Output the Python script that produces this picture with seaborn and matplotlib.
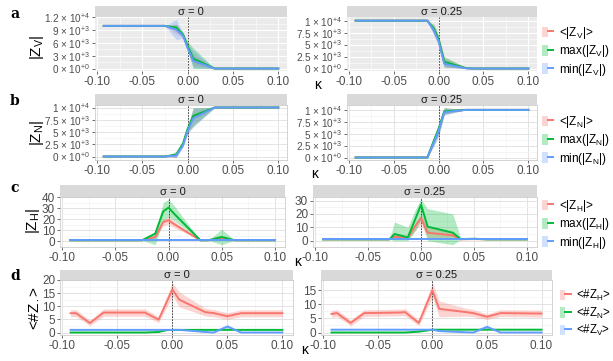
import matplotlib
matplotlib.use("Agg")
import matplotlib.pyplot as plt
import seaborn as sns
import pandas as pd
from matplotlib.patches import Patch
from matplotlib.lines import Line2D
from matplotlib.legend_handler import HandlerTuple

plt.rcParams["font.family"] = ["Liberation Sans", "DejaVu Sans"]
plt.rcParams["mathtext.fontset"] = "custom"
plt.rcParams["mathtext.rm"] = "Liberation Sans"
plt.rcParams["mathtext.it"] = "Liberation Sans:italic"

KAPPA = [-0.0925, -0.0875, -0.075, -0.0625, -0.03, -0.025, -0.0125, -0.005,
         0.0, 0.00625, 0.03, 0.0375, 0.05, 0.0625, 0.1]

# row a: |Z_V| (thousands)
ZV0_MEAN = [10, 10, 10, 10, 10, 10, 9.3, 7.8, 5.0, 2.0, 0, 0, 0, 0, 0]
ZV0_MEAN_LO = [10, 10, 10, 10, 10, 10, 8.2, 7.3, 4.4, 0.8, 0, 0, 0, 0, 0]
ZV0_MEAN_HI = [10, 10, 10, 10, 10, 10, 10.5, 8.3, 5.7, 3.4, 0, 0, 0, 0, 0]
ZV0_MAX = [10, 10, 10, 10, 10, 10, 9.6, 7.9, 5.3, 2.3, 0, 0, 0, 0, 0]
ZV0_MAX_LO = [10, 10, 10, 10, 10, 10, 9.0, 7.3, 4.2, 0.0, 0, 0, 0, 0, 0]
ZV0_MAX_HI = [10, 10, 10, 10, 10, 10, 10.3, 8.5, 6.4, 4.8, 0, 0, 0, 0, 0]
ZV0_MIN = [10, 10, 10, 10, 10, 10, 9.1, 7.7, 4.8, 1.8, 0, 0, 0, 0, 0]
ZV0_MIN_LO = [10, 10, 10, 10, 10, 10, 6.8, 7.1, 4.2, 0.2, 0, 0, 0, 0, 0]
ZV0_MIN_HI = [10, 10, 10, 10, 10, 10, 11.5, 8.4, 5.8, 4.2, 0, 0, 0, 0, 0]

ZV1_MEAN = [10, 10, 10, 10, 10, 10, 10, 8.0, 5.9, 1.2, 0.1, 0, 0, 0, 0]
ZV1_MEAN_LO = [10, 10, 10, 10, 10, 10, 10, 7.0, 5.1, 0.3, 0, 0, 0, 0, 0]
ZV1_MEAN_HI = [10, 10, 10, 10, 10, 10, 10, 9.0, 6.7, 2.3, 0.3, 0, 0, 0, 0]
ZV1_MAX = [10, 10, 10, 10, 10, 10, 10, 8.2, 6.1, 1.4, 0.1, 0, 0, 0, 0]
ZV1_MAX_LO = [10, 10, 10, 10, 10, 9.8, 10, 7.2, 5.3, 0.4, 0, 0, 0, 0, 0]
ZV1_MAX_HI = [10, 10, 10, 10, 10, 10.25, 10, 9.2, 6.9, 2.5, 0.3, 0, 0, 0, 0]
ZV1_MIN = [10, 10, 10, 10, 10, 10, 10, 7.8, 5.7, 1.0, 0.05, 0, 0, 0, 0]
ZV1_MIN_LO = [10, 10, 10, 10, 10, 10, 10, 6.8, 4.9, 0.2, 0, 0, 0, 0, 0]
ZV1_MIN_HI = [10, 10, 10, 10, 10, 10, 10, 8.8, 6.5, 2.0, 0.2, 0, 0, 0, 0]

# row b: |Z_N| (thousands)
ZN0_MEAN = [0, 0, 0, 0, 0, 0, 0.3, 2.5, 5.4, 8.0, 10, 10, 10, 10, 10]
ZN0_MEAN_LO = [0, 0, 0, 0, 0, 0, -0.2, 2.1, 4.8, 6.4, 10, 10, 10, 10, 10]
ZN0_MEAN_HI = [0, 0, 0, 0, 0, 0, 0.8, 2.9, 6.0, 9.8, 10, 10, 10, 10, 10]
ZN0_MAX = [0, 0, 0, 0, 0, 0, 0.4, 2.7, 5.6, 8.3, 10, 10, 10, 10, 10]
ZN0_MAX_LO = [0, 0, 0, 0, 0, 0, -0.1, 2.3, 5.0, 6.2, 10, 10, 10, 10, 10]
ZN0_MAX_HI = [0, 0, 0, 0, 0, 0, 1.1, 3.1, 6.2, 10.0, 10, 10, 10, 10, 10]
ZN0_MIN = [0, 0, 0, 0, 0, 0, 0.2, 2.3, 5.2, 7.8, 10, 10, 10, 10, 10]
ZN0_MIN_LO = [0, 0, 0, 0, 0, 0, -0.2, 1.9, 4.6, 6.0, 10, 10, 10, 10, 10]
ZN0_MIN_HI = [0, 0, 0, 0, 0, 0, 0.6, 2.7, 5.8, 9.9, 10, 10, 10, 10, 10]

ZN1_MEAN = [0, 0, 0, 0, 0, 0, 0, 3.5, 5.8, 9.6, 10, 10, 10, 10, 10]
ZN1_MEAN_LO = [0, 0, 0, 0, 0, 0, 0, 2.7, 4.6, 9.0, 10, 10, 10, 10, 10]
ZN1_MEAN_HI = [0, 0, 0, 0, 0, 0, 0, 4.3, 7.0, 10.5, 10, 10, 10, 10, 10]
ZN1_MAX = [0, 0, 0, 0, 0, 0, 0, 3.7, 6.0, 9.7, 10, 10, 10, 10, 10]
ZN1_MAX_LO = [0, 0, 0, 0, 0, 0, 0, 2.9, 4.8, 9.1, 10, 10, 10, 10, 10]
ZN1_MAX_HI = [0, 0, 0, 0, 0, 0, 0, 4.5, 7.2, 10.5, 10, 10, 10, 10, 10]
ZN1_MIN = [0, 0, 0, 0, 0, 0, 0, 3.3, 5.6, 9.5, 10, 10, 10, 10, 10]
ZN1_MIN_LO = [0, 0, 0, 0, 0, 0, 0, 2.5, 4.4, 8.9, 10, 10, 10, 10, 10]
ZN1_MIN_HI = [0, 0, 0, 0, 0, 0, 0, 4.1, 6.8, 10.4, 10, 10, 10, 10, 10]

# row c: |Z_H|
ZH0_MEAN = [1, 1, 1, 1, 1, 1, 4, 17.5, 19, 15, 1, 1, 2.5, 1, 1]
ZH0_MEAN_LO = [1, 1, 1, 1, 1, 1, 2.5, 14, 15.5, 12, 1, 1, 1.5, 1, 1]
ZH0_MEAN_HI = [1, 1, 1, 1, 1, 1, 5.5, 20, 22.5, 17.5, 1, 1, 3.5, 1, 1]
ZH0_MAX = [1, 1, 1, 1, 1, 1, 7, 27, 30.5, 24, 1, 1, 4, 1, 1]
ZH0_MAX_LO = [1, 1, 1, 1, 1, 1, -3, 19, 22.5, 18, 1, 1, -3, 1, 1]
ZH0_MAX_HI = [1, 1, 1, 1, 1, 1, 9, 35, 38, 31, 1, 1, 11, 1, 1]
ZH0_MIN = [1, 1, 1, 1, 1, 1, 1, 1, 1, 1, 1, 1, 1, 1, 1]

ZH1_MEAN = [1, 1, 1, 1, 1, 3, 2, 11.5, 17, 6, 4, 1, 1.2, 1, 1]
ZH1_MEAN_LO = [1, 1, 1, 1, 1, 1.5, 1, 8, 12.5, 2, 1.5, 1, 1, 1, 1]
ZH1_MEAN_HI = [1, 1, 1, 1, 1, 4.5, 3, 14, 20, 10, 6.5, 1, 1.5, 1, 1]
ZH1_MAX = [1, 1, 1, 1, 1, 5, 2.5, 17, 27, 10.5, 6, 1.2, 1.5, 1, 1]
ZH1_MAX_LO = [1, 1, 1, 1, 1, 0, 0, 8, 16, 0, -3, 1, 1, 1, 1]
ZH1_MAX_HI = [1, 1, 1, 1, 1, 14, 10, 24, 31, 24, 20, 2, 2, 1, 1]
ZH1_MIN = [1, 1, 1, 1, 1, 1, 1, 1, 1, 1, 1, 1, 1, 1, 1]

# row d: <#Z.>
NZ0_H = [7.35, 7.35, 3.6, 7.6, 7.6, 7.6, 4.9, 11.8, 16.4, 12.5, 7.75, 7.4, 6.2, 7.35, 7.35]
NZ0_H_LO = [6.0, 6.0, 2.6, 6.2, 6.2, 6.2, 3.8, 9.8, 14.0, 9.8, 6.3, 6.0, 5.0, 6.0, 6.0]
NZ0_H_HI = [8.7, 8.7, 4.6, 9.0, 9.0, 9.0, 6.0, 13.8, 19.0, 15.5, 9.2, 8.8, 7.5, 8.7, 8.7]
NZ0_N = [0, 0, 0, 0, 0, 0, 0.2, 0.9, 1, 1, 1, 1, 1, 1, 1]
NZ0_V = [1, 1, 1, 1, 1, 1, 1, 1, 1, 1, 0.2, 0, 2.3, 0, 0]
NZ0_V_LO = [1, 1, 1, 1, 1, 1, 1, 1, 1, 1, 0.1, 0, 1.6, 0, 0]
NZ0_V_HI = [1, 1, 1, 1, 1, 1, 1, 1, 1, 1, 0.3, 0, 3.0, 0, 0]

NZ1_H = [6.6, 6.9, 3.4, 6.9, 7.1, 7.25, 3.4, 10.4, 15, 8.4, 7.3, 6.9, 5.6, 6.9, 6.75]
NZ1_H_LO = [5.4, 5.7, 2.4, 5.7, 5.9, 6.0, 2.4, 8.5, 12.5, 5.6, 5.8, 5.6, 4.6, 5.7, 5.5]
NZ1_H_HI = [7.8, 8.1, 4.4, 8.1, 8.3, 8.5, 4.4, 12.3, 17.8, 11.2, 8.7, 8.2, 6.6, 8.1, 8.0]
NZ1_N = [0, 0, 0, 0, 0, 0, 0.3, 0.7, 1, 1, 1, 1, 1, 1, 1]
NZ1_V = [1, 1, 1, 1, 1, 1, 1, 1, 1, 0.5, 0.1, 0, 2.0, 0, 0]
NZ1_V_LO = [1, 1, 1, 1, 1, 1, 1, 1, 1, 0.4, 0, 0, 1.3, 0, 0]
NZ1_V_HI = [1, 1, 1, 1, 1, 1, 1, 1, 1, 0.6, 0.2, 0, 2.7, 0, 0]

X_TICKS = [-0.10, -0.05, 0.0, 0.05, 0.10]
X_LABELS = ["-0.10", "-0.05", "0.00", "0.05", "0.10"]
Y_TICKS_A0 = [0, 3e3, 6e3, 9e3, 1.2e4]
Y_LABELS_A0 = [r"0 × 10$^{+0}$", r"3 × 10$^{+3}$", r"6 × 10$^{+3}$",
               r"9 × 10$^{+3}$", r"1.2 × 10$^{+4}$"]
Y_TICKS_1E4 = [0, 2.5e3, 5e3, 7.5e3, 1e4]
Y_LABELS_1E4 = [r"0 × 10$^{+0}$", r"2.5 × 10$^{+3}$", r"5 × 10$^{+3}$",
                r"7.5 × 10$^{+3}$", r"1 × 10$^{+4}$"]

COLORS = ["#F8766D", "#00BA38", "#619CFF"]
W, H = 613, 361

fig = plt.figure(figsize=(W / 100, H / 100), dpi=100)


def rect(x0, y0, x1, y1):
    return [x0 / W, 1 - y1 / H, (x1 - x0) / W, (y1 - y0) / H]


def panel(x0, x1, ys0, ys1, yb, sigma, lines, bands, gray, yticks, ylabels,
          scale=1.0, ysize=7.2):
    sax = fig.add_axes(rect(x0, ys0, x1, ys1))
    sax.set_facecolor("#D9D9D9")
    sax.set_xticks([])
    sax.set_yticks([])
    for s in sax.spines.values():
        s.set_visible(False)
    sax.text(0.5, 0.45, f"σ = {sigma}", ha="center", va="center", fontsize=8,
             color="#1A1A1A", transform=sax.transAxes)

    ax = fig.add_axes(rect(x0, ys1, x1, yb))
    names = ["s0", "s1", "s2"]
    allv = []
    for i, (lo, hi) in enumerate(bands):
        if lo is None:
            continue
        lo = [v * scale for v in lo]
        hi = [v * scale for v in hi]
        allv += lo + hi
        ax.fill_between(KAPPA, lo, hi, color=COLORS[i], alpha=0.3, lw=0, zorder=1)
    df = pd.DataFrame({
        "kappa": KAPPA * 3,
        "value": [v * scale for ln in lines for v in ln],
        "series": [n for n in names for _ in KAPPA],
    })
    allv += list(df["value"])
    sns.lineplot(data=df, x="kappa", y="value", hue="series", hue_order=names,
                 palette=COLORS, linewidth=1.4, legend=False, ax=ax,
                 estimator=None, sort=False, zorder=3)
    ax.axvline(0, color="#333333", ls=(0, (2, 1.5)), lw=0.6, zorder=2)

    xr = max(KAPPA) - min(KAPPA)
    ax.set_xlim(min(KAPPA) - 0.05 * xr, max(KAPPA) + 0.05 * xr)
    lo_v, hi_v = min(allv), max(allv)
    yr = hi_v - lo_v
    ax.set_ylim(lo_v - 0.05 * yr, hi_v + 0.05 * yr)

    ax.set_xticks(X_TICKS)
    ax.set_xticklabels(X_LABELS)
    ax.set_xticks([-0.075, -0.025, 0.025, 0.075], minor=True)
    ax.set_yticks(yticks)
    ax.set_yticklabels(ylabels)
    ax.set_yticks([(a + b) / 2 for a, b in zip(yticks[:-1], yticks[1:])], minor=True)
    ax.tick_params(axis="both", which="major", labelsize=8.5, labelcolor="#4D4D4D",
                   color="#333333", length=2.5, width=0.5, pad=1)
    ax.tick_params(axis="y", which="major", labelsize=ysize)
    ax.tick_params(axis="both", which="minor", length=0)
    ax.set_xlabel("")
    ax.set_ylabel("")
    ax.set_axisbelow(True)
    if gray:
        ax.set_facecolor("#EBEBEB")
        ax.grid(True, which="major", color="white", lw=0.8)
        ax.grid(True, which="minor", color="white", lw=0.4)
        for s in ax.spines.values():
            s.set_visible(False)
    else:
        ax.set_facecolor("white")
        ax.grid(True, which="major", color="#E3E3E3", lw=0.7)
        ax.grid(True, which="minor", color="#F0F0F0", lw=0.4)
        for s in ax.spines.values():
            s.set_color("#CCCCCC")
            s.set_linewidth(0.6)
    return ax


def legend(x, y, labels, size=8.5):
    handles = [(Patch(facecolor=c, alpha=0.3, edgecolor="none"),
                Line2D([], [], color=c, lw=1.4)) for c in COLORS]
    fig.legend(handles, labels, loc="upper left", bbox_to_anchor=(x / W, 1 - y / H),
               frameon=False, fontsize=size, handlelength=0.95, handleheight=1.0,
               labelspacing=0.2, handletextpad=0.45, borderaxespad=0, borderpad=0,
               handler_map={tuple: HandlerTuple(ndivide=None)})


# row a
panel(95, 287, 6, 17, 71, "0", [ZV0_MEAN, ZV0_MAX, ZV0_MIN],
      [(ZV0_MEAN_LO, ZV0_MEAN_HI), (ZV0_MAX_LO, ZV0_MAX_HI), (ZV0_MIN_LO, ZV0_MIN_HI)],
      True, Y_TICKS_A0, Y_LABELS_A0, scale=1e3)
panel(347, 537, 6, 17, 71, "0.25", [ZV1_MEAN, ZV1_MAX, ZV1_MIN],
      [(ZV1_MEAN_LO, ZV1_MEAN_HI), (ZV1_MAX_LO, ZV1_MAX_HI), (ZV1_MIN_LO, ZV1_MIN_HI)],
      True, Y_TICKS_1E4, Y_LABELS_1E4, scale=1e3)
legend(542, 25, [r"<|Z$_\mathregular{V}$|>", r"max(|Z$_\mathregular{V}$|)",
                 r"min(|Z$_\mathregular{V}$|)"])

# row b
panel(95, 287, 94, 105, 160, "0", [ZN0_MEAN, ZN0_MAX, ZN0_MIN],
      [(ZN0_MEAN_LO, ZN0_MEAN_HI), (ZN0_MAX_LO, ZN0_MAX_HI), (ZN0_MIN_LO, ZN0_MIN_HI)],
      False, Y_TICKS_1E4, Y_LABELS_1E4, scale=1e3)
panel(347, 537, 94, 105, 160, "0.25", [ZN1_MEAN, ZN1_MAX, ZN1_MIN],
      [(ZN1_MEAN_LO, ZN1_MEAN_HI), (ZN1_MAX_LO, ZN1_MAX_HI), (ZN1_MIN_LO, ZN1_MIN_HI)],
      False, Y_TICKS_1E4, Y_LABELS_1E4, scale=1e3)
legend(542, 114, [r"<|Z$_\mathregular{N}$|>", r"max(|Z$_\mathregular{N}$|)",
                  r"min(|Z$_\mathregular{N}$|)"])

# row c
panel(60, 285, 185, 197, 247, "0", [ZH0_MEAN, ZH0_MAX, ZH0_MIN],
      [(ZH0_MEAN_LO, ZH0_MEAN_HI), (ZH0_MAX_LO, ZH0_MAX_HI), (None, None)],
      False, [0, 10, 20, 30, 40], ["0", "10", "20", "30", "40"], ysize=8.5)
panel(313, 537, 185, 197, 247, "0.25", [ZH1_MEAN, ZH1_MAX, ZH1_MIN],
      [(ZH1_MEAN_LO, ZH1_MEAN_HI), (ZH1_MAX_LO, ZH1_MAX_HI), (None, None)],
      False, [0, 10, 20, 30], ["0", "10", "20", "30"], ysize=8.5)
legend(542, 198, [r"<|Z$_\mathregular{H}$|>", r"max(|Z$_\mathregular{H}$|)",
                  r"min(|Z$_\mathregular{H}$|)"])

# row d
panel(60, 293, 270, 280, 335, "0", [NZ0_H, NZ0_N, NZ0_V],
      [(NZ0_H_LO, NZ0_H_HI), (None, None), (NZ0_V_LO, NZ0_V_HI)],
      False, [0, 5, 10, 15, 20], ["0", "5", "10", "15", "20"], ysize=8.5)
panel(321, 552, 270, 280, 335, "0.25", [NZ1_H, NZ1_N, NZ1_V],
      [(NZ1_H_LO, NZ1_H_HI), (None, None), (NZ1_V_LO, NZ1_V_HI)],
      False, [0, 5, 10, 15], ["0", "5", "10", "15"], ysize=8.5)
legend(560, 288, [r"<#Z$_\mathregular{H}$>", r"<#Z$_\mathregular{N}$>",
                  r"<#Z$_\mathregular{V}$>"], size=8.3)

# row letters, axis titles
for letter, y in zip("abcd", [14, 101, 188, 276]):
    fig.text(10 / W, 1 - y / H, letter, fontsize=10, fontweight="bold",
             family="DejaVu Serif", ha="left", va="center")
for lab, x, y in [(r"|Z$_\mathregular{V}$|", 37, 47), (r"|Z$_\mathregular{N}$|", 37, 133),
                  (r"|Z$_\mathregular{H}$|", 33, 221), (r"<#Z$_\cdot$>", 33, 308)]:
    fig.text(x / W, 1 - y / H, lab, fontsize=11, rotation=90, ha="center", va="center")
for x, y in [(318, 85), (315, 174), (298, 262), (305, 350)]:
    fig.text(x / W, 1 - y / H, "κ", fontsize=10, ha="center", va="center")

fig.savefig("out.png", dpi=100)
